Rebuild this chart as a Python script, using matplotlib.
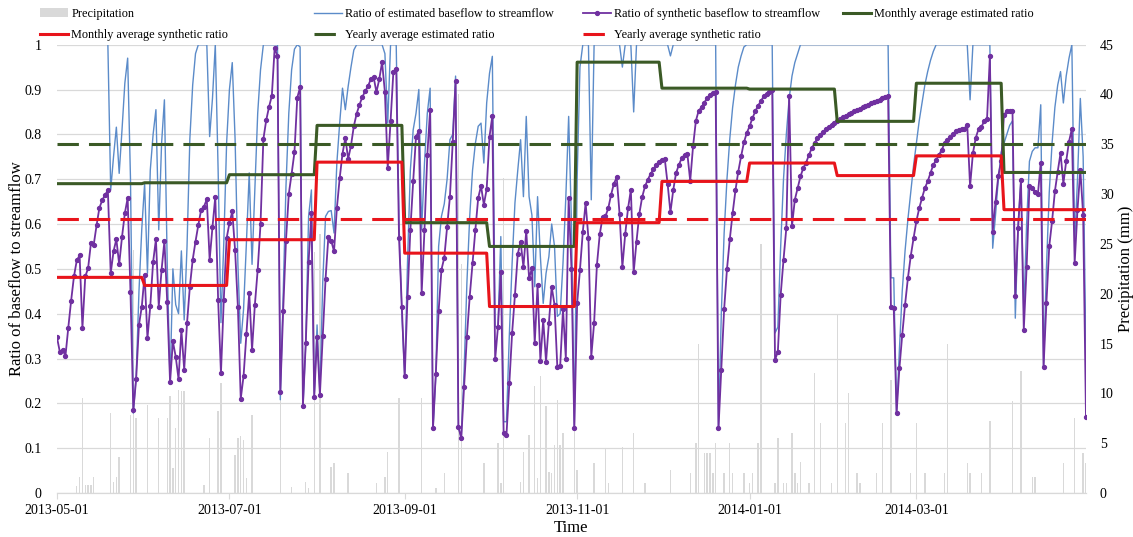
import numpy as np
import pandas as pd
import matplotlib
matplotlib.use("Agg")
import matplotlib.pyplot as plt
import matplotlib.dates as mdates
from matplotlib.ticker import FuncFormatter, MultipleLocator

plt.rcParams['font.family'] = ['Liberation Serif', 'DejaVu Serif']

dates = pd.date_range("2013-05-01", "2014-04-30", freq="D")
nan = np.nan

# daily ratio of synthetic baseflow to streamflow
ratio_synthetic = [
    # May
    0.347, 0.315, 0.319, 0.306, 0.369, 0.429, 0.483, 0.519, 0.530, 0.368,
    0.483, 0.501, 0.557, 0.554, 0.597, 0.636, 0.653, 0.665, 0.675, 0.490,
    0.539, 0.566, 0.510, 0.571, 0.624, 0.658, 0.448, 0.185, 0.254, 0.375,
    0.416,
    # Jun
    0.487, 0.345, 0.417, 0.515, 0.566, 0.416, 0.498, 0.562, 0.425, 0.247,
    0.338, 0.304, 0.254, 0.364, 0.275, 0.379, 0.460, 0.520, 0.561, 0.598,
    0.632, 0.639, 0.655, 0.520, 0.593, 0.661, 0.431, 0.267, 0.431, 0.568,
    # Jul
    0.602, 0.628, 0.542, 0.414, 0.210, 0.261, 0.354, 0.447, 0.319, 0.420,
    0.498, 0.600, 0.789, 0.831, 0.861, 0.886, 0.993, 0.974, 0.225, 0.405,
    0.563, 0.667, 0.712, 0.760, 0.882, 0.905, 0.195, 0.334, 0.516, 0.624,
    0.215,
    # Aug
    0.349, 0.219, 0.350, 0.477, 0.572, 0.563, 0.539, 0.635, 0.702, 0.757,
    0.792, 0.745, 0.775, 0.818, 0.846, 0.866, 0.883, 0.896, 0.907, 0.923,
    0.928, 0.894, 0.923, 0.961, 0.894, 0.725, 0.829, 0.940, 0.946, 0.568,
    0.415,
    # Sep
    0.260, 0.438, 0.587, 0.695, 0.795, 0.807, 0.446, 0.587, 0.754, 0.855,
    0.144, 0.265, 0.406, 0.498, 0.525, 0.594, 0.661, 0.784, 0.918, 0.148,
    0.122, 0.237, 0.349, 0.438, 0.513, 0.587, 0.658, 0.685, 0.643, 0.678,
    # Oct
    0.795, 0.841, 0.298, 0.371, 0.492, 0.133, 0.129, 0.245, 0.357, 0.442,
    0.533, 0.561, 0.504, 0.585, 0.479, 0.501, 0.334, 0.463, 0.295, 0.386,
    0.293, 0.379, 0.460, 0.420, 0.280, 0.283, 0.410, 0.300, 0.658, 0.500,
    0.144,
    # Nov
    0.423, 0.498, 0.582, 0.647, 0.568, 0.304, 0.379, 0.509, 0.577, 0.615,
    0.617, 0.635, 0.665, 0.690, 0.704, 0.623, 0.504, 0.577, 0.635, 0.676,
    0.492, 0.561, 0.623, 0.660, 0.684, 0.699, 0.712, 0.722, 0.732, 0.738,
    # Dec
    0.743, 0.745, 0.690, 0.626, 0.676, 0.714, 0.732, 0.747, 0.754, 0.756,
    0.696, 0.773, 0.830, 0.853, 0.860, 0.871, 0.881, 0.887, 0.892, 0.895,
    0.144, 0.275, 0.410, 0.499, 0.566, 0.624, 0.675, 0.717, 0.751, 0.782,
    0.803,
    # Jan
    0.818, 0.836, 0.851, 0.864, 0.874, 0.885, 0.890, 0.895, 0.900, 0.297,
    0.315, 0.442, 0.520, 0.591, 0.885, 0.595, 0.654, 0.680, 0.706, 0.725,
    0.737, 0.754, 0.769, 0.780, 0.792, 0.799, 0.805, 0.811, 0.816, 0.821,
    0.826,
    # Feb
    0.830, 0.834, 0.838, 0.842, 0.845, 0.848, 0.851, 0.854, 0.857, 0.860,
    0.863, 0.866, 0.869, 0.872, 0.874, 0.877, 0.880, 0.883, 0.886, 0.416,
    0.412, 0.178, 0.278, 0.353, 0.420, 0.479, 0.528, 0.568,
    # Mar
    0.606, 0.635, 0.658, 0.680, 0.695, 0.714, 0.732, 0.743, 0.754, 0.766,
    0.780, 0.788, 0.795, 0.800, 0.807, 0.810, 0.812, 0.813, 0.821, 0.684,
    0.758, 0.792, 0.812, 0.817, 0.829, 0.834, 0.974, 0.583, 0.650, 0.708,
    0.740,
    # Apr
    0.844, 0.851, 0.853, 0.853, 0.440, 0.591, 0.699, 0.364, 0.504, 0.685,
    0.680, 0.672, 0.667, 0.737, 0.282, 0.423, 0.550, 0.606, 0.673, 0.717,
    0.758, 0.690, 0.740, 0.784, 0.812, 0.513, 0.632, 0.721, 0.620, 0.169,
]

# daily ratio of estimated baseflow to streamflow (no estimate for the first days)
ratio_estimated = [
    # May
    nan, nan, nan, nan, nan, nan, nan, nan, nan, nan,
    nan, nan, nan, nan, nan, nan, nan, nan, 1.000, 0.676,
    0.750, 0.816, 0.713, 0.810, 0.914, 0.970, 0.700, 0.178, 0.260, 0.450,
    0.590,
    # Jun
    0.690, 0.490, 0.720, 0.800, 0.855, 0.587, 0.780, 0.877, 0.510, 0.245,
    0.500, 0.420, 0.400, 0.540, 0.386, 0.550, 0.790, 0.910, 0.980, 1.000,
    1.000, 1.000, 1.000, 0.795, 0.880, 1.000, 0.720, 0.380, 0.557, 0.780,
    # Jul
    0.900, 0.960, 0.790, 0.510, 0.334, 0.410, 0.557, 0.714, 0.510, 0.676,
    0.847, 0.944, 1.000, 1.000, 1.000, 1.000, 1.000, 1.000, 0.208, 0.440,
    0.684, 0.847, 0.944, 0.990, 1.000, 0.995, 0.190, 0.334, 0.617, 0.676,
    0.215,
    # Aug
    0.375, 0.222, 0.468, 0.617, 0.628, 0.630, 0.580, 0.736, 0.825, 0.903,
    0.855, 0.907, 0.950, 0.988, 1.000, 1.000, 1.000, 1.000, 1.000, 1.000,
    1.000, 1.000, 1.000, 1.000, 0.980, 0.825, 1.000, 1.000, 1.000, 0.600,
    0.400,
    # Sep
    0.260, 0.516, 0.720, 0.810, 0.847, 0.900, 0.587, 0.736, 0.847, 0.903,
    0.141, 0.260, 0.550, 0.617, 0.645, 0.700, 0.788, 0.800, 0.930, 0.148,
    0.122, 0.270, 0.468, 0.617, 0.720, 0.780, 0.818, 0.825, 0.736, 0.870,
    # Oct
    0.936, 0.974, 0.371, 0.371, 0.572, 0.159, 0.159, 0.350, 0.513, 0.647,
    0.720, 0.788, 0.661, 0.840, 0.661, 0.620, 0.460, 0.661, 0.527, 0.423,
    0.490, 0.527, 0.600, 0.550, 0.394, 0.400, 0.513, 0.660, 0.840, 0.600,
    0.144,
    # Nov
    0.700, 0.950, 1.000, 1.000, 1.000, 0.654, 1.000, 1.000, 1.000, 1.000,
    1.000, 1.000, 1.000, 1.000, 1.000, 1.000, 0.950, 1.000, 1.000, 1.000,
    0.850, 1.000, 1.000, 1.000, 1.000, 1.000, 1.000, 1.000, 1.000, 1.000,
    # Dec
    1.000, 1.000, 1.000, 0.975, 1.000, 1.000, 1.000, 1.000, 1.000, 1.000,
    1.000, 1.000, 1.000, 1.000, 1.000, 1.000, 1.000, 1.000, 1.000, 1.000,
    0.141, 0.400, 0.580, 0.700, 0.790, 0.860, 0.910, 0.950, 0.975, 0.995,
    1.000,
    # Jan
    1.000, 1.000, 1.000, 1.000, 1.000, 1.000, 1.000, 1.000, 1.000, 0.357,
    0.370, 0.550, 0.700, 0.800, 0.880, 0.930, 0.960, 0.980, 1.000, 1.000,
    1.000, 1.000, 1.000, 1.000, 1.000, 1.000, 1.000, 1.000, 1.000, 1.000,
    1.000,
    # Feb
    1.000, 1.000, 1.000, 1.000, 1.000, 1.000, 1.000, 1.000, 1.000, 1.000,
    1.000, 1.000, 1.000, 1.000, 1.000, 1.000, 1.000, 1.000, 1.000, 0.480,
    0.480, 0.178, 0.320, 0.450, 0.540, 0.610, 0.670, 0.730,
    # Mar
    0.780, 0.830, 0.870, 0.910, 0.940, 0.965, 0.985, 1.000, 1.000, 1.000,
    1.000, 1.000, 1.000, 1.000, 1.000, 1.000, 1.000, 1.000, 1.000, 0.877,
    1.000, 1.000, 1.000, 1.000, 1.000, 1.000, 1.000, 0.546, 0.620, 0.700,
    0.760,
    # Apr
    0.780, 0.800, 0.820, 0.830, 0.390, 0.600, 0.700, 0.400, 0.600, 0.740,
    0.762, 0.770, 0.770, 0.866, 0.280, 0.500, 0.670, 0.780, 0.860, 0.910,
    0.940, 0.870, 0.930, 0.970, 1.000, 0.560, 0.700, 0.880, 0.750, 0.300,
]

# monthly means, May 2013 .. Apr 2014
monthly_estimated = [0.690, 0.692, 0.710, 0.820, 0.603, 0.550,
                     0.961, 0.903, 0.901, 0.829, 0.914, 0.715]
monthly_synthetic = [0.481, 0.463, 0.565, 0.738, 0.535, 0.416,
                     0.603, 0.695, 0.736, 0.708, 0.752, 0.632]
yearly_estimated = 0.778
yearly_synthetic = 0.611

# rainy days (index from 2013-05-01) and depth in mm
rain_day = [7, 8, 9, 10, 11, 12, 13, 19, 20, 21, 22, 26, 27, 28, 32, 36, 39, 40,
            41, 42, 43, 44, 45, 52, 54, 57, 58, 63, 64, 65, 66, 67, 69, 79, 83,
            88, 89, 91, 93, 97, 98, 103, 113, 116, 117, 121, 129, 134, 137, 142,
            143, 151, 156, 157, 158, 164, 165, 167, 169, 170, 171, 173, 174, 175,
            176, 177, 178, 179, 183, 184, 190, 194, 195, 200, 204, 208, 217, 224,
            226, 227, 229, 230, 231, 232, 233, 236, 238, 239, 243, 245, 246, 248,
            249, 254, 255, 257, 258, 260, 261, 262, 263, 266, 268, 270, 274, 276,
            279, 280, 283, 284, 290, 292, 295, 302, 304, 307, 314, 315, 322, 323,
            327, 330, 338, 341, 345, 346, 356, 360, 363, 364]
rain_mm = [0.7, 1.6, 9.5, 0.8, 0.8, 0.8, 1.6, 8.0, 1.1, 1.6, 3.6, 7.8, 24.4, 7.5,
           8.8, 7.5, 7.5, 9.7, 2.5, 6.5, 10.3, 10.2, 10.2, 0.8, 5.5, 8.2, 11.0,
           3.8, 5.5, 5.7, 5.3, 1.5, 7.8, 9.3, 0.6, 1.1, 0.5, 24.2, 26.0, 2.6, 3.0,
           2.0, 1.0, 1.6, 4.1, 9.5, 9.5, 0.5, 2.0, 40.0, 23.0, 3.0, 5.0, 1.0, 31.6,
           1.1, 4.1, 5.8, 10.7, 1.5, 11.7, 8.7, 2.1, 2.0, 4.8, 9.3, 4.8, 6.0, 6.3,
           2.3, 3.0, 4.5, 1.0, 4.6, 6.0, 1.0, 2.3, 2.0, 5.0, 15.0, 4.0, 4.0, 4.0,
           2.0, 5.0, 2.0, 5.0, 2.0, 2.0, 1.0, 2.0, 5.0, 25.0, 1.0, 5.5, 1.0, 1.0,
           6.0, 2.0, 1.0, 3.1, 1.0, 12.0, 7.0, 1.0, 18.0, 7.0, 10.0, 2.0, 1.0, 2.0,
           7.0, 11.3, 2.0, 7.0, 2.0, 2.0, 15.0, 3.0, 2.0, 2.0, 7.2, 9.2, 12.2, 1.6,
           1.6, 3.0, 7.5, 4.0, 3.0]

precip = np.zeros(len(dates))
precip[rain_day] = rain_mm

# spread the monthly means over the days of each month
month_idx = pd.factorize(dates.to_period("M"))[0]
monthly_est_daily = np.array(monthly_estimated)[month_idx]
monthly_syn_daily = np.array(monthly_synthetic)[month_idx]

grey = "#d9d9d9"
blue = "#5b8bc9"
purple = "#7030a0"
green = "#3b5a26"
red = "#e8141b"

fig = plt.figure(figsize=(11.33, 5.37), dpi=100)
ax = fig.add_axes([0.0503, 0.0819, 0.9082, 0.8349])
ax2 = ax.twinx()

bars = ax2.bar(dates, precip, width=0.5, color=grey, label="Precipitation")
ax2.set_ylim(0, 45)
ax2.yaxis.set_major_locator(MultipleLocator(5))
ax2.set_ylabel("Precipitation (mm)", fontsize=12, labelpad=3)

ax.set_zorder(ax2.get_zorder() + 1)
ax.patch.set_visible(False)

l_est, = ax.plot(dates, ratio_estimated, color=blue, lw=1.0,
                 label="Ratio of estimated baseflow to streamflow")
l_syn, = ax.plot(dates, ratio_synthetic, color=purple, lw=1.3, marker="o",
                 markersize=2.8, label="Ratio of synthetic baseflow to streamflow")
l_mest, = ax.plot(dates, monthly_est_daily, color=green, lw=2.2,
                  label="Monthly average estimated ratio")
l_msyn, = ax.plot(dates, monthly_syn_daily, color=red, lw=2.2,
                  label="Monthly average synthetic ratio")
l_yest, = ax.plot(dates, np.full(len(dates), yearly_estimated), color=green,
                  lw=2.2, dashes=(7, 3.3), label="Yearly average estimated ratio")
l_ysyn, = ax.plot(dates, np.full(len(dates), yearly_synthetic), color=red,
                  lw=2.2, dashes=(7, 3.3), label="Yearly average synthetic ratio")

ax.set_ylim(0, 1)
ax.set_xlim(dates[0], dates[-1])
ax.yaxis.set_major_locator(MultipleLocator(0.1))
ax.yaxis.set_major_formatter(FuncFormatter(lambda v, p: f"{v:g}"))
ax.grid(axis="y", color=grey, lw=0.9)
ax.set_axisbelow(True)

ax.xaxis.set_major_locator(mdates.MonthLocator(bymonth=[1, 3, 5, 7, 9, 11]))
ax.xaxis.set_major_formatter(mdates.DateFormatter("%Y-%m-%d"))
ax.tick_params(axis="x", length=4, color=grey, labelsize=10, pad=4)
ax.tick_params(axis="y", length=0, labelsize=10, pad=11)
ax2.tick_params(axis="y", length=0, labelsize=10, pad=10)

for a in (ax, ax2):
    for side in ("top", "left", "right"):
        a.spines[side].set_visible(False)
    a.spines["bottom"].set_color(grey)

ax.set_xlabel("Time", fontsize=12, labelpad=2)
ax.set_ylabel("Ratio of baseflow to streamflow", fontsize=12)
ax.yaxis.set_label_coords(-0.031, 0.5)

# legend laid out in four columns, two rows
legend_cols = [
    ([bars, l_msyn], 0.0353),
    ([l_est, l_yest], 0.2771),
    ([l_syn, l_ysyn], 0.5146),
    ([l_mest], 0.7441),
]
for col_handles, x0 in legend_cols:
    fig.legend(col_handles, [h.get_label() for h in col_handles],
               loc="upper left", bbox_to_anchor=(x0, 0.985), frameon=False,
               fontsize=8.8, handlelength=2.3, handletextpad=0.25,
               labelspacing=0.75, borderpad=0.0, borderaxespad=0.0,
               numpoints=1)

fig.savefig("out.png", dpi=100)
